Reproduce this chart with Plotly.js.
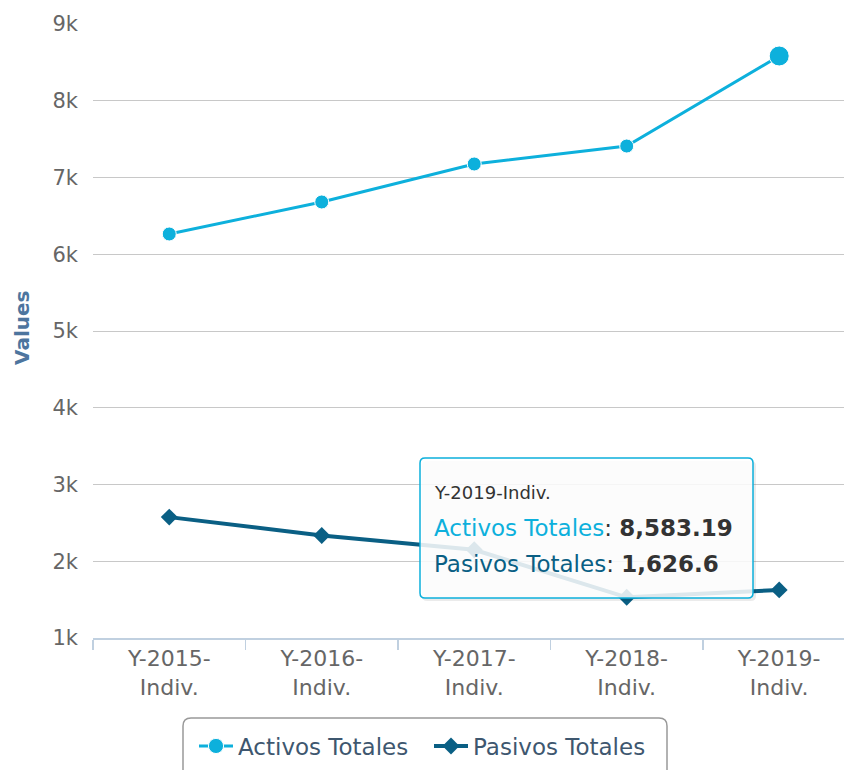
<!DOCTYPE html>
<html><head><meta charset="utf-8">
<script src="https://cdn.plot.ly/plotly-3.0.1.min.js"></script>
<style>html,body{margin:0;padding:0;background:#fff;}#chart{width:844px;height:770px;}</style>
</head><body><div id="chart"></div>
<script>
// ---- data ----
const categories = ['Y-2015-Indiv.', 'Y-2016-Indiv.', 'Y-2017-Indiv.', 'Y-2018-Indiv.', 'Y-2019-Indiv.'];
const tickLabels = ['Y-2015-<br>Indiv.', 'Y-2016-<br>Indiv.', 'Y-2017-<br>Indiv.', 'Y-2018-<br>Indiv.', 'Y-2019-<br>Indiv.'];
const activosTotales = [6264, 6681, 7176, 7410, 8583.19];
const pasivosTotales = [2575, 2335, 2150, 1530, 1626.6];
const seriesNames = ['Activos Totales', 'Pasivos Totales'];
const yTickValues = [1000, 2000, 3000, 4000, 5000, 6000, 7000, 8000, 9000];
const yAxisTitle = 'Values';
const hoverIndex = 4;

// ---- styling ----
const W = 844, H = 770;
const M = {l: 93, r: 0, t: 24, b: 132};
const PW = W - M.l - M.r, PH = H - M.t - M.b;
const FONT = 'DejaVu Sans, Verdana, sans-serif';
const cActivos = '#0db0dc';
const cPasivos = '#0a5f84';
const px2x = p => (p - M.l) / PW;
const py2y = p => (H - M.b - p) / PH;

function roundRect(x0, y0, x1, y1, r) {
  const a = px2x(x0), b = px2x(x1), c = py2y(y0), d = py2y(y1);
  const rx = r / PW, ry = r / PH;
  return `M${a + rx},${c} L${b - rx},${c} Q${b},${c} ${b},${c - ry} L${b},${d + ry} Q${b},${d} ${b - rx},${d} ` +
         `L${a + rx},${d} Q${a},${d} ${a},${d + ry} L${a},${c - ry} Q${a},${c} ${a + rx},${c} Z`;
}

const fmt = v => v.toLocaleString('en-US', {maximumFractionDigits: 2});

const traces = [
  {
    type: 'scatter', mode: 'lines+markers', name: seriesNames[0],
    x: categories, y: activosTotales,
    line: {color: cActivos, width: 3},
    marker: {color: cActivos, opacity: 1, symbol: 'circle',
             size: activosTotales.map((v, i) => i === hoverIndex ? 20 : 14)},
    hoverinfo: 'skip'
  },
  {
    type: 'scatter', mode: 'lines+markers', name: seriesNames[1],
    x: categories, y: pasivosTotales,
    line: {color: cPasivos, width: 4},
    marker: {color: cPasivos, opacity: 1, symbol: 'diamond', size: 13},
    hoverinfo: 'skip'
  }
];

const shapes = [
  // tooltip shadow
  {type: 'path', xref: 'paper', yref: 'paper', layer: 'above',
   path: roundRect(422, 461, 756, 601, 5), fillcolor: 'rgba(0,0,0,0.08)', line: {width: 0}},
  // tooltip
  {type: 'path', xref: 'paper', yref: 'paper', layer: 'above',
   path: roundRect(420, 458, 753, 598, 5), fillcolor: 'rgba(255,255,255,0.86)', line: {color: cActivos, width: 1.5}},
  // legend box
  {type: 'path', xref: 'paper', yref: 'paper', layer: 'above',
   path: roundRect(183, 718, 667, 778, 8), fillcolor: 'rgba(0,0,0,0)', line: {color: '#999999', width: 1.5}}
];

const annotations = [
  {xref: 'paper', yref: 'paper', x: px2x(22), y: py2y(328), text: '<b>' + yAxisTitle + '</b>', showarrow: false,
   textangle: -90, font: {family: FONT, size: 20, color: '#4d759e'}, xanchor: 'center', yanchor: 'middle'},
  {xref: 'paper', yref: 'paper', x: px2x(432), y: py2y(492), text: categories[hoverIndex], showarrow: false,
   xanchor: 'left', yanchor: 'middle', font: {family: FONT, size: 18, color: '#333333'}},
  {xref: 'paper', yref: 'paper', x: px2x(432), y: py2y(528), showarrow: false, xanchor: 'left', yanchor: 'middle',
   text: `<span style="color:${cActivos}">${seriesNames[0]}</span>: <b>${fmt(activosTotales[hoverIndex])}</b>`,
   font: {family: FONT, size: 23, color: '#333333'}},
  {xref: 'paper', yref: 'paper', x: px2x(432), y: py2y(564), showarrow: false, xanchor: 'left', yanchor: 'middle',
   text: `<span style="color:${cPasivos}">${seriesNames[1]}</span>: <b>${fmt(pasivosTotales[hoverIndex])}</b>`,
   font: {family: FONT, size: 23, color: '#333333'}}
];

const layout = {
  width: W, height: H, margin: M,
  paper_bgcolor: '#ffffff', plot_bgcolor: '#ffffff',
  font: {family: FONT, color: '#666666'},
  showlegend: true,
  legend: {orientation: 'h', x: px2x(194), xanchor: 'left', y: py2y(746), yanchor: 'middle',
           itemwidth: 34, entrywidth: 186, entrywidthmode: 'pixels',
           font: {family: FONT, size: 23, color: '#3e576f'}, bgcolor: 'rgba(0,0,0,0)', borderwidth: 0},
  xaxis: {type: 'category', range: [-0.5, 4.425], tickson: 'boundaries', ticks: 'outside', ticklen: 10,
          tickcolor: '#c0d0e0', tickwidth: 1.5, showline: true, linecolor: '#c0d0e0', linewidth: 1.5,
          showgrid: false, zeroline: false, tickvals: categories, ticktext: tickLabels,
          tickfont: {family: FONT, size: 22, color: '#666666'}, fixedrange: true},
  yaxis: {range: [1000, 9000], tickvals: yTickValues, tickformat: '~s', showgrid: true, gridcolor: '#c8c8c8',
          gridwidth: 1, showline: false, zeroline: false, ticks: '', ticklabelstandoff: 14,
          tickfont: {family: FONT, size: 21, color: '#666666'}, fixedrange: true},
  shapes: shapes,
  annotations: annotations
};

Plotly.newPlot('chart', traces, layout, {displayModeBar: false, staticPlot: true});
</script>
</body></html>
